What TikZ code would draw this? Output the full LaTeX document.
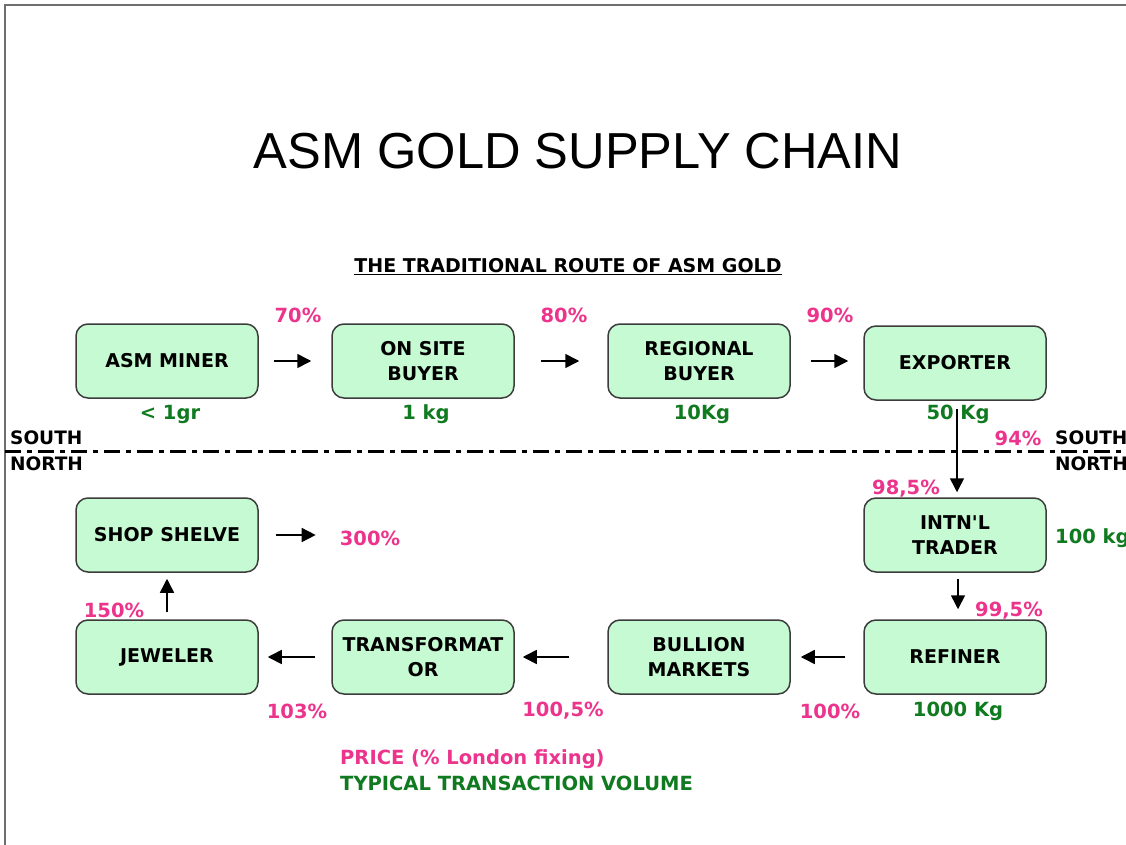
\documentclass[tikz,border=0pt]{standalone}
\usepackage{fontspec}
\setmainfont{DejaVu Sans}
\newfontfamily\titlefont{Liberation Sans}
\usetikzlibrary{arrows.meta}
\definecolor{pinkc}{RGB}{236,52,140}
\definecolor{greenc}{RGB}{16,122,32}
\definecolor{boxfill}{RGB}{198,250,210}
\definecolor{boxline}{RGB}{60,60,60}
\definecolor{framec}{RGB}{110,110,110}
\begin{document}
\begin{tikzpicture}[x=1pt,y=-1pt,
  box/.style={draw=boxline,line width=1.5pt,fill=boxfill,rounded corners=12pt,
    minimum width=182pt,minimum height=74pt,align=center,inner sep=0pt,
    font=\fontsize{19}{25}\selectfont\bfseries},
  pct/.style={text=pinkc,inner sep=0pt,font=\fontsize{19.5}{23}\selectfont\bfseries},
  vol/.style={text=greenc,inner sep=0pt,font=\fontsize{19.5}{23}\selectfont\bfseries},
  side/.style={inner sep=0pt,font=\fontsize{18.5}{22}\selectfont\bfseries},
  arr/.style={line width=1.6pt,-{Triangle[length=14pt,width=14pt]}}]
\useasboundingbox (0,0) rectangle (1126,845);
\fill[white] (0,0) rectangle (1126,845);
% frame
\draw[framec,line width=2pt] (5,845) -- (5,5) -- (1126,5);
% title
\node[inner sep=0pt,font=\titlefont\fontsize{50.6}{56}\selectfont] (title) at (578,151) {ASM GOLD SUPPLY CHAIN};
\node[inner sep=0pt,font=\fontsize{19}{22}\selectfont\bfseries] (sub) at (568,267) {\underline{THE TRADITIONAL ROUTE OF ASM GOLD}};
% boxes
\node[box] (miner) at (167,361) {ASM MINER};
\node[box] (onsite) at (423,361) {ON SITE\\BUYER};
\node[box] (regional) at (699,361) {REGIONAL\\BUYER};
\node[box] (exporter) at (955,363) {EXPORTER};
\node[box] (trader) at (955,535) {INTN\textquotesingle L\\TRADER};
\node[box] (refiner) at (955,657) {REFINER};
\node[box] (bullion) at (699,657) {BULLION\\MARKETS};
\node[box] (transf) at (423,657) {TRANSFORMAT\\OR};
\node[box] (jeweler) at (167,657) {JEWELER};
\node[box] (shop) at (167,535) {SHOP SHELVE};
% percentages
\node[pct] (p70) at (298,315) {70\%};
\node[pct] (p80) at (564,315) {80\%};
\node[pct] (p90) at (830,315) {90\%};
\node[pct] (p94) at (1018,438) {94\%};
\node[pct] (p985) at (906,489) {98,5\%};
\node[pct] (p995) at (1009,611) {99,5\%};
\node[pct] (p150) at (114,610) {150\%};
\node[pct] (p300) at (370,538) {300\%};
\node[pct] (p103) at (297,711) {103\%};
\node[pct] (p1005) at (563,711) {100,5\%};
\node[pct] (p100) at (830,711) {100\%};
% volumes
\node[vol] (v1) at (170,414) {< 1gr};
\node[vol] (v2) at (426,414) {1 kg};
\node[vol] (v3) at (702,414) {10Kg};
\node[vol] (v4) at (958,414) {50 Kg};
\node[vol,anchor=west] (v5) at (1055,538) {100 kg};
\node[vol] (v6) at (958,711) {1000 Kg};
% south / north
\node[side,anchor=west] (sl) at (10,438) {SOUTH};
\node[side,anchor=west] (nl) at (10,464) {NORTH};
\node[side,anchor=west] (sr) at (1055,438) {SOUTH};
\node[side,anchor=west] (nr) at (1055,464) {NORTH};
\coordinate (dl) at (5,451);
\coordinate (dr) at (1126,451);
\draw[line width=3pt,dash pattern=on 16pt off 6pt on 5pt off 6pt] (dl) -- (dr);
% arrows
\draw[arr,shorten <=15pt,shorten >=20pt] (miner.east) -- (onsite.west);
\draw[arr,shorten <=26pt,shorten >=28pt] (onsite.east) -- (regional.west);
\draw[arr,shorten <=20pt,shorten >=15pt] (regional.east) -- (regional.east -| exporter.west);
\draw[arr,shorten <=8pt,shorten >=5pt] ([xshift=2pt]exporter.south) -- ([xshift=2pt]trader.north);
\draw[arr,shorten <=6pt,shorten >=10pt] ([xshift=3pt]trader.south) -- ([xshift=3pt]refiner.north);
\draw[arr,shorten <=18pt,shorten >=10pt] (refiner.west) -- (bullion.east);
\draw[arr,shorten <=38pt,shorten >=8pt] (bullion.west) -- (transf.east);
\draw[arr,shorten <=16pt,shorten >=9pt] (transf.west) -- (jeweler.east);
\draw[arr,shorten <=7pt,shorten >=6pt] (jeweler.north) -- (shop.south);
\draw[arr,shorten <=17pt,shorten >=24pt] (shop.east) -- (shop.east -| p300.west);
% legend
\node[pct,anchor=west] (lg1) at (340,759) {PRICE (\% London fixing)};
\node[vol,anchor=west] (lg2) at (340,783) {TYPICAL TRANSACTION VOLUME};
\end{tikzpicture}
\end{document}
